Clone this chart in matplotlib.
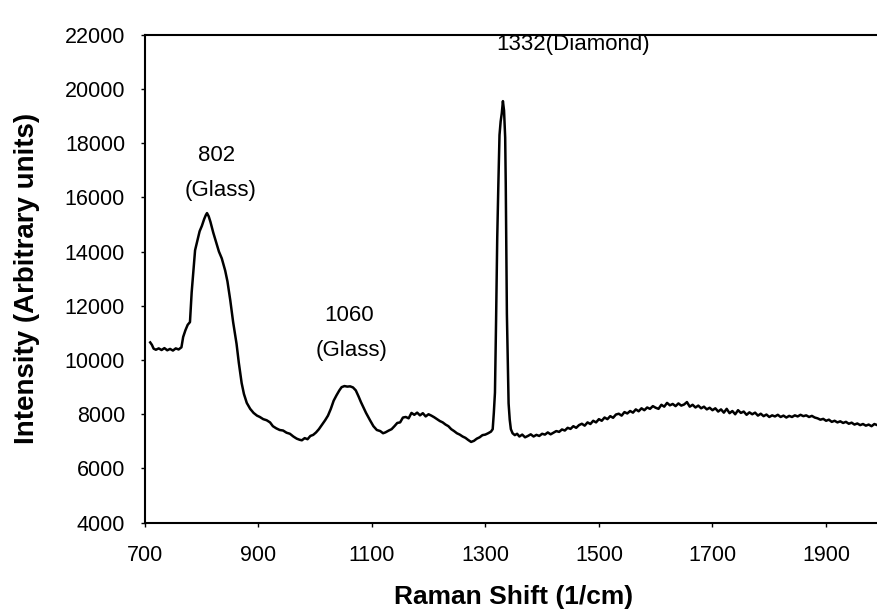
import matplotlib.pyplot as plt

plt.rcParams['font.family'] = ['Liberation Sans', 'DejaVu Sans']

# spectrum (Raman shift in 1/cm, intensity)
shift = [710, 713, 716, 720, 725, 730, 735, 740, 745, 750, 755, 760, 765, 768, 772, 776, 780, 783, 786, 789,
         793, 797, 801, 805, 808, 810, 813, 816, 821, 826, 831, 836, 842, 846, 851, 856, 862, 866, 871, 875,
         880, 886, 892, 898, 903, 909, 915, 921, 926, 932, 938, 944, 950, 956, 962, 968, 973, 977, 982, 987,
         992, 997, 1002, 1007, 1012, 1018, 1023, 1028, 1033, 1038, 1043, 1047, 1052, 1057, 1062, 1067, 1072,
         1077, 1081, 1085, 1090, 1097, 1103, 1109, 1115, 1120, 1124, 1130, 1135, 1140, 1145, 1150, 1155, 1160,
         1165, 1170, 1175, 1180, 1185, 1190, 1195, 1200, 1205, 1210, 1215, 1220, 1225, 1230, 1235, 1240, 1245,
         1250, 1255, 1260, 1265, 1270, 1275, 1280, 1285, 1290, 1295, 1300, 1305, 1310, 1313, 1315, 1317, 1319,
         1321, 1323, 1325, 1327, 1329, 1331, 1333, 1335, 1336, 1337, 1338, 1340, 1341, 1343, 1345, 1348, 1352,
         1356, 1360, 1365, 1370, 1375, 1380, 1385, 1390, 1395, 1400, 1405, 1410, 1415, 1420, 1425, 1430, 1435,
         1440, 1445, 1450, 1455, 1460, 1465, 1470, 1475, 1480, 1485, 1490, 1495, 1500, 1505, 1510, 1515, 1520,
         1525, 1530, 1535, 1540, 1545, 1550, 1555, 1560, 1565, 1570, 1575, 1580, 1585, 1590, 1595, 1600, 1605,
         1610, 1615, 1620, 1625, 1630, 1635, 1640, 1645, 1650, 1655, 1660, 1665, 1670, 1675, 1680, 1685, 1690,
         1695, 1700, 1705, 1710, 1715, 1720, 1725, 1730, 1735, 1740, 1745, 1750, 1755, 1760, 1765, 1770, 1775,
         1780, 1785, 1790, 1795, 1800, 1805, 1810, 1815, 1820, 1825, 1830, 1835, 1840, 1845, 1850, 1855, 1860,
         1865, 1870, 1875, 1880, 1885, 1890, 1895, 1900, 1905, 1910, 1915, 1920, 1925, 1930, 1935, 1940, 1945,
         1950, 1955, 1960, 1965, 1970, 1975, 1980, 1985, 1990]
intensity = [10650, 10560, 10420, 10380, 10430, 10370, 10440, 10360, 10410, 10350, 10430, 10390, 10470, 10850,
             11100, 11300, 11400, 12500, 13300, 14050, 14400, 14750, 14950, 15200, 15350, 15420, 15300, 15100,
             14700, 14350, 14000, 13750, 13300, 12900, 12200, 11400, 10600, 9900, 9150, 8750, 8420, 8200, 8050,
             7950, 7900, 7820, 7780, 7700, 7560, 7480, 7420, 7400, 7320, 7280, 7180, 7100, 7060, 7040, 7120,
             7080, 7200, 7240, 7330, 7450, 7600, 7780, 7950, 8200, 8500, 8700, 8880, 9000, 9040, 9020, 9030,
             8990, 8880, 8650, 8450, 8270, 8050, 7780, 7560, 7420, 7380, 7300, 7330, 7400, 7450, 7560, 7680,
             7700, 7880, 7900, 7850, 8050, 7980, 8060, 7960, 8040, 7920, 8000, 7950, 7890, 7820, 7750, 7700,
             7620, 7560, 7450, 7380, 7300, 7250, 7180, 7130, 7050, 6980, 7020, 7100, 7150, 7230, 7250, 7300,
             7360, 7450, 8050, 8800, 11500, 14500, 16500, 18300, 18800, 19100, 19550, 19200, 18200, 16500,
             14000, 11700, 9500, 8400, 7800, 7450, 7300, 7230, 7280, 7180, 7250, 7150, 7200, 7260, 7180, 7240,
             7200, 7280, 7250, 7330, 7260, 7320, 7380, 7350, 7440, 7400, 7500, 7460, 7560, 7500, 7600, 7650,
             7580, 7700, 7640, 7760, 7700, 7820, 7760, 7880, 7820, 7930, 7870, 7990, 8020, 7950, 8080, 8030,
             8120, 8060, 8180, 8110, 8220, 8150, 8250, 8200, 8300, 8240, 8200, 8350, 8280, 8420, 8330, 8380,
             8300, 8400, 8320, 8360, 8450, 8280, 8350, 8250, 8320, 8220, 8280, 8180, 8240, 8150, 8220, 8100,
             8180, 8060, 8200, 8040, 8120, 8000, 8150, 8050, 8100, 7980, 8070, 8000, 8060, 7950, 8020, 7930,
             7990, 7900, 7960, 7920, 7980, 7900, 7950, 7880, 7940, 7900, 7960, 7920, 7980, 7930, 7960, 7900,
             7940, 7880, 7850, 7800, 7830, 7760, 7800, 7720, 7760, 7700, 7740, 7680, 7720, 7650, 7690, 7620,
             7660, 7600, 7640, 7580, 7620, 7560, 7640, 7600]

x_ticks = [700, 900, 1100, 1300, 1500, 1700, 1900]
y_ticks = [4000, 6000, 8000, 10000, 12000, 14000, 16000, 18000, 20000, 22000]

peak_labels = [
    (827, 17550, '802'),
    (833, 16270, '(Glass)'),
    (1060, 11660, '1060'),
    (1065, 10370, '(Glass)'),
    (1454, 21650, '1332(Diamond)'),
]

fig = plt.figure(figsize=(8.77, 6.11), dpi=100)
# axes run a little past the right edge of the figure, as in the original
ax = fig.add_axes([0.1648, 0.1445, 0.8419, 0.7987])

ax.plot(shift, intensity, color='black', linewidth=1.8)

for x, y, s in peak_labels:
    ax.text(x, y, s, ha='center', va='center', fontsize=16)

ax.set_xlim(700, 2000)
ax.set_ylim(4000, 22000)
ax.set_xticks(x_ticks)
ax.set_yticks(y_ticks)
ax.tick_params(labelsize=15.5, length=3, width=1, direction='out')
ax.tick_params(axis='x', pad=13)
ax.tick_params(axis='y', pad=11)

for sp in ax.spines.values():
    sp.set_linewidth(1.5)

ax.set_xlabel('Raman Shift (1/cm)', fontsize=19, fontweight='bold', labelpad=14)
ax.set_ylabel('Intensity (Arbitrary units)', fontsize=20, fontweight='bold', labelpad=18)

fig.savefig('out.png', dpi=100)
